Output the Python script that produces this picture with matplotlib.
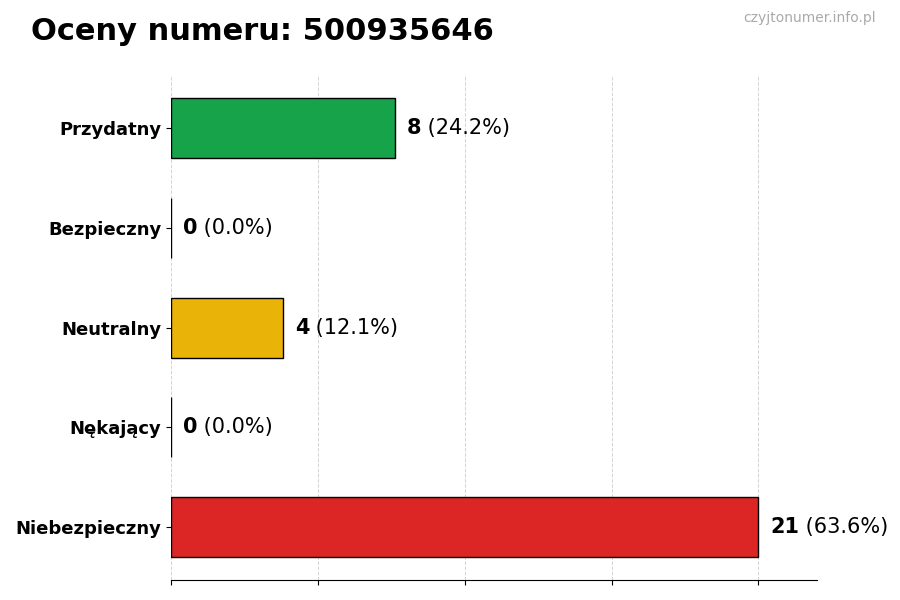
import matplotlib
matplotlib.use("Agg")
import matplotlib.pyplot as plt
import numpy as np

# dane
categories = ["Niebezpieczny", "Nękający", "Neutralny", "Bezpieczny", "Przydatny"]
counts = [21, 0, 4, 0, 8]
colors = ["#dc2626", "#f97316", "#eab308", "#22c55e", "#16a34a"]
number = "500935646"

total = sum(counts)
vmax = max(counts)

fig = plt.figure(figsize=(9, 6), dpi=100)
ax = fig.add_axes([0.19, 0.033, 0.718, 0.842])

ypos = range(len(categories))
ax.barh(ypos, counts, height=0.6, color=colors, edgecolor="black", linewidth=1)

ax.set_yticks(list(ypos))
ax.set_yticklabels(categories, fontsize=13, fontweight="bold")
ax.set_xlim(0, vmax * 1.1)
ax.set_xticks(np.linspace(0, vmax, 5))
ax.set_xticklabels([])
ax.xaxis.grid(True, linestyle="--", color="#d4d4d4", linewidth=0.7)
ax.set_axisbelow(True)

for s in ["top", "right", "left"]:
    ax.spines[s].set_visible(False)

# etykiety wartości
for y, c in zip(ypos, counts):
    pct = c / total * 100
    t = ax.text(c + vmax * 0.02, y, str(c), fontsize=15, fontweight="bold",
                va="center", ha="left")
    ax.annotate(" (%.1f%%)" % pct, xy=(1, 0.5), xycoords=t,
                va="center", ha="left", fontsize=15)

fig.text(0.034, 0.947, "Oceny numeru: " + number, fontsize=22,
         fontweight="bold", va="center", ha="left")
fig.text(0.973, 0.97, "czyjtonumer.info.pl", fontsize=10,
         color="#aaaaaa", va="center", ha="right")

fig.savefig("out.png", dpi=100)
